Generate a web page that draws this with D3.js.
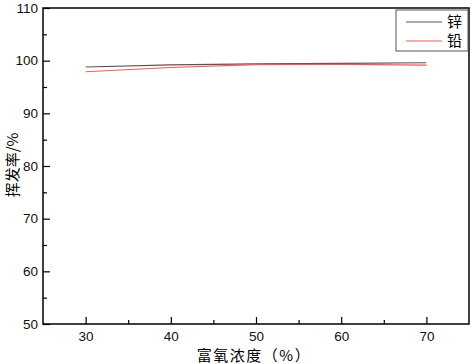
<!DOCTYPE html>
<html lang="zh">
<head>
    <meta charset="UTF-8">
    <title>挥发率</title>
    <style>
        body {
            margin: 0;
            padding: 0;
            background-color: white;
        }
        svg { display: block; }
        .tick text {
            font-family: "Liberation Sans", Arial, sans-serif;
            font-size: 13.5px;
            fill: #111;
        }
        .cjk {
            font-family: "Noto Sans CJK SC", sans-serif;
        }
    </style>
</head>
<body>
    <div id="container"></div>

    <script src="https://d3js.org/d3.v7.min.js"></script>
    <script>
        // Data
        const concentration = [30, 40, 50, 60, 70];
        const zinc = [98.8, 99.2, 99.4, 99.5, 99.6];
        const lead = [97.9, 98.7, 99.25, 99.3, 99.15];
        const xTicks = [30, 40, 50, 60, 70];
        const yTicks = [50, 60, 70, 80, 90, 100, 110];
        const seriesNames = ["锌", "铅"];
        const seriesColors = ["#555555", "#ff5555"];

        const width = 472, height = 364;
        const margin = {left: 43, right: 3, top: 8, bottom: 40};

        const svg = d3.select("#container")
            .append("svg")
            .attr("width", width)
            .attr("height", height);

        const x = d3.scaleLinear().domain([25, 75]).range([margin.left, width - margin.right]);
        const y = d3.scaleLinear().domain([50, 110]).range([height - margin.bottom, margin.top]);

        // minor ticks
        const xMinor = d3.range(35, 75, 10);
        const yMinor = d3.range(55, 110, 10);

        const xAxis = svg.append("g")
            .attr("transform", `translate(0,${y(50)})`)
            .call(d3.axisBottom(x).tickValues(xTicks).tickSizeInner(-7).tickSizeOuter(0).tickPadding(7));
        xAxis.select(".domain").remove();
        xAxis.selectAll(".tick line").attr("stroke-width", 1.2);

        svg.append("g")
            .attr("transform", `translate(0,${y(50)})`)
            .call(d3.axisBottom(x).tickValues(xMinor).tickSize(-4).tickFormat(""))
            .call(g => g.select(".domain").remove())
            .selectAll(".tick line").attr("stroke-width", 1.2);

        const yAxis = svg.append("g")
            .attr("transform", `translate(${x(25)},0)`)
            .call(d3.axisLeft(y).tickValues(yTicks).tickSizeInner(-7).tickSizeOuter(0).tickPadding(5));
        yAxis.select(".domain").remove();
        yAxis.selectAll(".tick line").attr("stroke-width", 1.2);

        svg.append("g")
            .attr("transform", `translate(${x(25)},0)`)
            .call(d3.axisLeft(y).tickValues(yMinor).tickSize(-4).tickFormat(""))
            .call(g => g.select(".domain").remove())
            .selectAll(".tick line").attr("stroke-width", 1.2);

        // frame
        svg.append("rect")
            .attr("x", x(25))
            .attr("y", y(110))
            .attr("width", x(75) - x(25))
            .attr("height", y(50) - y(110))
            .attr("fill", "none")
            .attr("stroke", "#000")
            .attr("stroke-width", 1.5);

        // lines
        const line = d3.line().x((d, i) => x(concentration[i])).y(d => y(d));
        [zinc, lead].forEach((s, k) => {
            svg.append("path")
                .datum(s)
                .attr("d", line)
                .attr("fill", "none")
                .attr("stroke", seriesColors[k])
                .attr("stroke-width", 1.2);
        });

        // legend
        const lg = svg.append("g").attr("transform", "translate(396,10)");
        lg.append("rect")
            .attr("width", 72)
            .attr("height", 41)
            .attr("fill", "white")
            .attr("stroke", "#555")
            .attr("stroke-width", 1);
        seriesNames.forEach((name, k) => {
            const ly = 12 + k * 19;
            lg.append("line")
                .attr("x1", 10).attr("x2", 46)
                .attr("y1", ly).attr("y2", ly)
                .attr("stroke", seriesColors[k])
                .attr("stroke-width", 1.2);
            lg.append("text")
                .attr("class", "cjk")
                .attr("x", 51)
                .attr("y", ly)
                .attr("dy", "0.36em")
                .attr("font-size", 15)
                .text(name);
        });

        // axis titles
        svg.append("text")
            .attr("class", "cjk")
            .attr("x", 254)
            .attr("y", 361)
            .attr("text-anchor", "middle")
            .attr("font-size", 15)
            .attr("letter-spacing", 1.5)
            .text("富氧浓度（%）");

        svg.append("text")
            .attr("class", "cjk")
            .attr("transform", "translate(18,165) rotate(-90)")
            .attr("text-anchor", "middle")
            .attr("font-size", 15)
            .text("挥发率/%");
    </script>
</body>
</html>
